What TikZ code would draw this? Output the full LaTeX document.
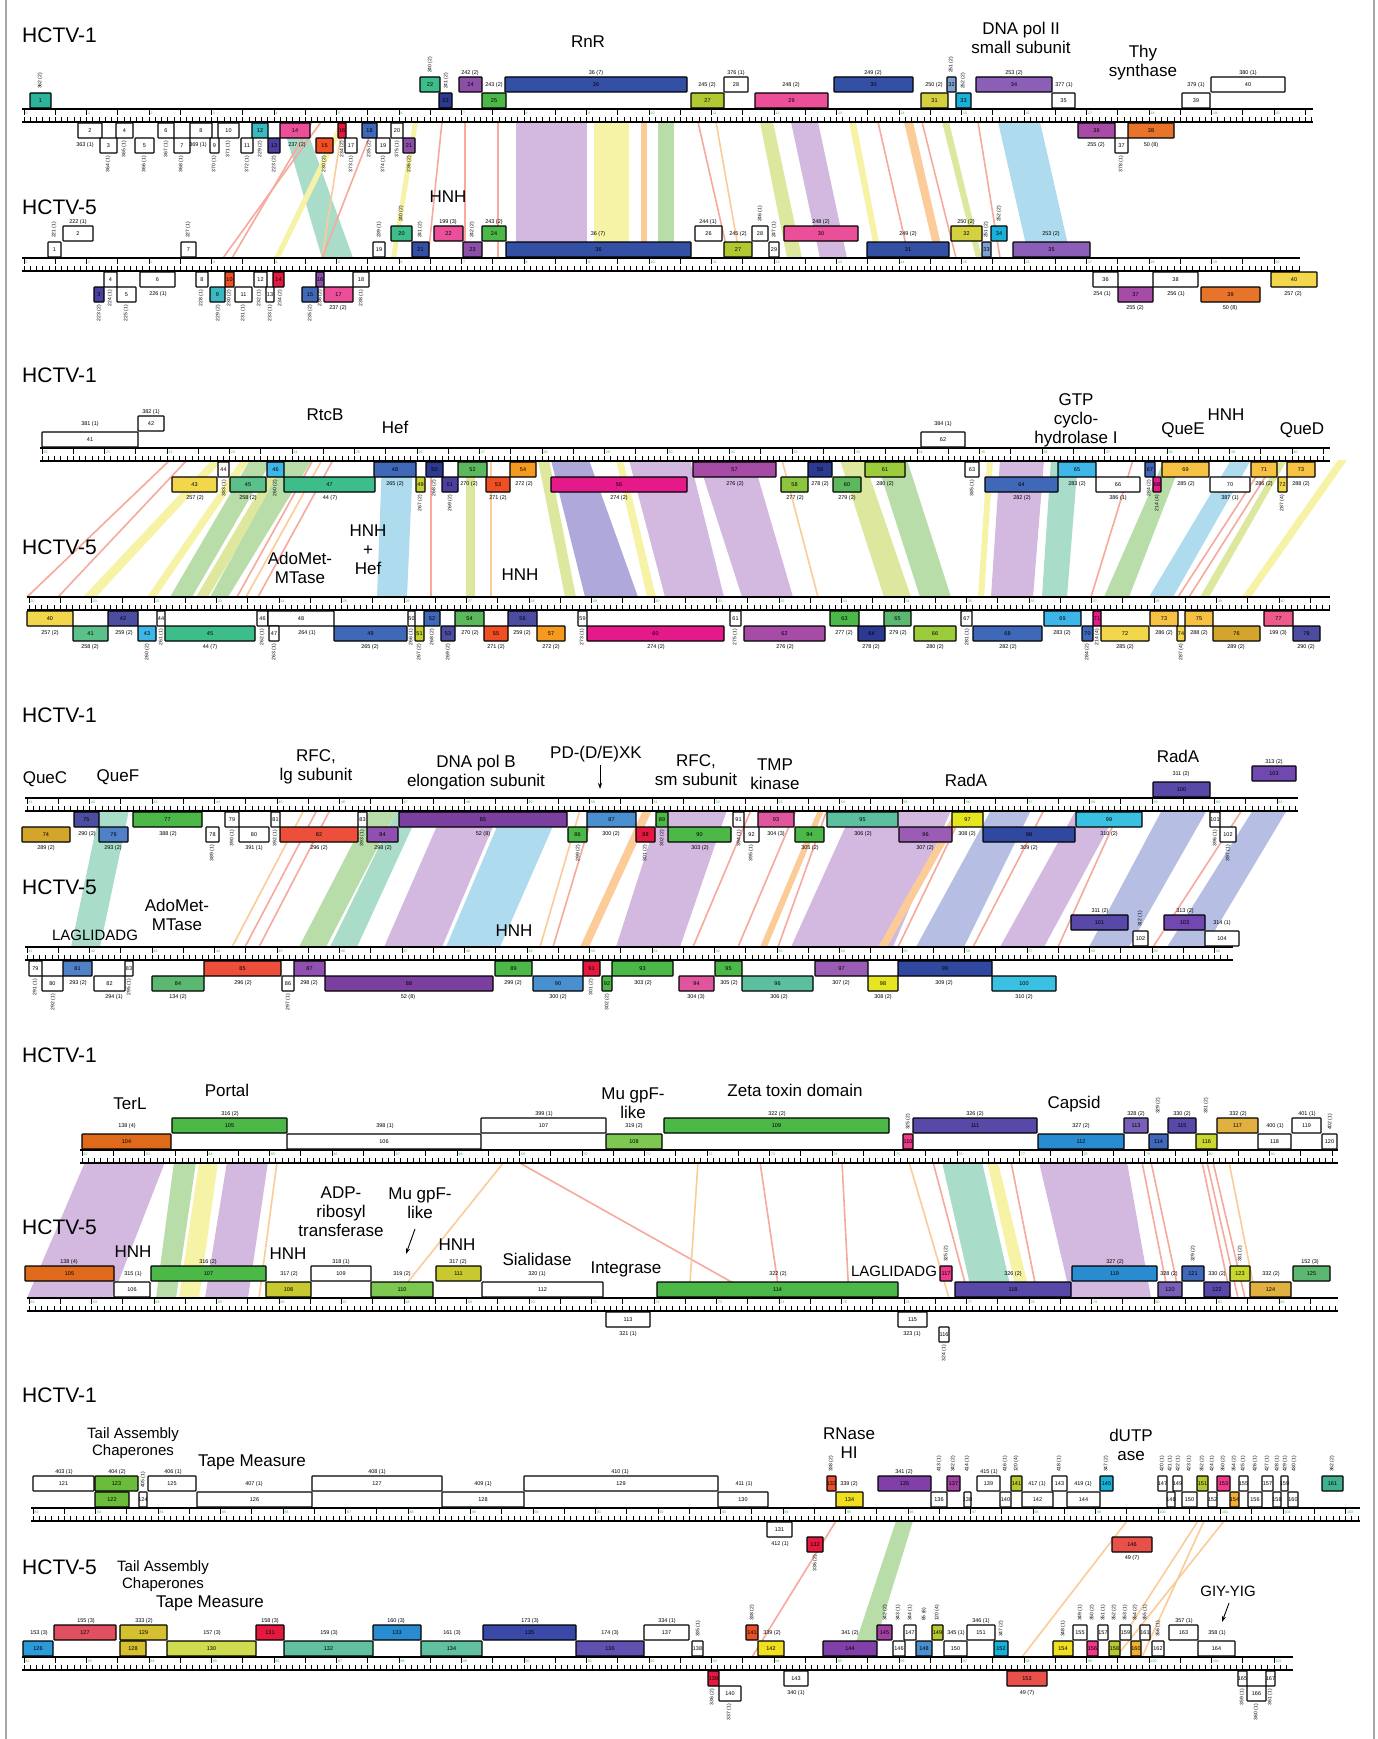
\documentclass[tikz,border=0pt]{standalone}
\usepackage{fontspec}
\setmainfont{Liberation Sans}
\usetikzlibrary{arrows.meta}
\definecolor{cTeal}{HTML}{2DB39B}\definecolor{cTeal2}{HTML}{3CB8C0}\definecolor{cGT}{HTML}{3DBD8A}\definecolor{cGT2}{HTML}{5CC08A}
\definecolor{cPur}{HTML}{8B4FA8}\definecolor{cPur2}{HTML}{8B5FB8}\definecolor{cBlue}{HTML}{3450A4}\definecolor{cDBlue}{HTML}{2B3990}
\definecolor{cGreen}{HTML}{4CB848}\definecolor{cGreen2}{HTML}{5CB85C}\definecolor{cGreen3}{HTML}{5CB870}\definecolor{cYG}{HTML}{B2C832}
\definecolor{cYG2}{HTML}{9CCC3C}\definecolor{cYG3}{HTML}{C8D830}\definecolor{cYG4}{HTML}{B8C830}\definecolor{cPink}{HTML}{EC4F9A}
\definecolor{cOlive}{HTML}{D4D040}\definecolor{cOlive2}{HTML}{C4D130}\definecolor{cOliveY}{HTML}{C8C830}\definecolor{cOliveD}{HTML}{D4C030}
\definecolor{cCyan}{HTML}{1AB1D9}\definecolor{cCyan2}{HTML}{3AC0E0}\definecolor{cGrayBlue}{HTML}{7F9FD0}\definecolor{cMag}{HTML}{A64CA6}
\definecolor{cMag2}{HTML}{A040A0}\definecolor{cOrange}{HTML}{E8732A}\definecolor{cOrange2}{HTML}{E06A1C}\definecolor{cRed}{HTML}{E5193F}
\definecolor{cOR}{HTML}{F04E23}\definecolor{cOR2}{HTML}{E8502A}\definecolor{cRO}{HTML}{EC4F3A}\definecolor{cRS}{HTML}{E8504A}
\definecolor{cViolet}{HTML}{4A3F9E}\definecolor{cViolet2}{HTML}{4C4CA0}\definecolor{cViolet3}{HTML}{5848A8}\definecolor{cViolet4}{HTML}{6050B0}
\definecolor{cYellow}{HTML}{F2D64B}\definecolor{cLBlue}{HTML}{3FB6E8}\definecolor{cMBlue}{HTML}{4068B8}\definecolor{cGold}{HTML}{D4A52C}
\definecolor{cGoldL}{HTML}{E0B040}\definecolor{cYOr}{HTML}{F7C244}\definecolor{cHotPink}{HTML}{E6198A}\definecolor{cHotPink2}{HTML}{EE3A8A}
\definecolor{cPinkR}{HTML}{EE5A8A}\definecolor{cPinkM}{HTML}{E0569E}\definecolor{cBright}{HTML}{E6E620}\definecolor{cBright2}{HTML}{F0E020}
\definecolor{cSky}{HTML}{4A90D0}\definecolor{cSky2}{HTML}{5080C8}\definecolor{cLGreen}{HTML}{7CC850}\definecolor{cLGreen2}{HTML}{8CC63F}
\definecolor{cAmber}{HTML}{F59A1E}\definecolor{cAmber2}{HTML}{F0B030}\definecolor{cDPur}{HTML}{7B3FA0}\definecolor{cPurM}{HTML}{9050B0}
\definecolor{cPurL}{HTML}{9A5CB4}\definecolor{cPurB}{HTML}{7048B0}\definecolor{cPurB2}{HTML}{7860B8}\definecolor{cPurD}{HTML}{8040A8}
\definecolor{cTeal3}{HTML}{5CC0A0}\definecolor{cTealL}{HTML}{60C0A0}\definecolor{cTealG}{HTML}{40B090}\definecolor{cDBlue2}{HTML}{3048A0}
\definecolor{cBlue2}{HTML}{2A8CD0}\definecolor{cBlue3}{HTML}{2A9AD8}\definecolor{cBlueD}{HTML}{3A48A8}\definecolor{cGreenY}{HTML}{6CBC3C}
\definecolor{cRose}{HTML}{E05060}\definecolor{cYGL}{HTML}{D0DC50}
\definecolor{bLav}{HTML}{D3B8E0}\definecolor{bYel}{HTML}{F7F3A6}\definecolor{bOr}{HTML}{FBCB98}\definecolor{bGr}{HTML}{B9DDA8}
\definecolor{bTeal}{HTML}{A9DCC9}\definecolor{bSal}{HTML}{F6A99C}\definecolor{bBlue}{HTML}{AEDBEE}\definecolor{bPeri}{HTML}{B6BFE3}
\definecolor{bYG}{HTML}{DDE89E}\definecolor{bVio}{HTML}{AFA9DB}\definecolor{tickG}{HTML}{3FAE49}
\newcommand\gn[5]{\filldraw[gb,fill=#4] (#2,{\R+(#1)}) rectangle (#3,{\R+(#1)+15});
  \node[num] at ({(#2+#3)/2},{\R+(#1)+7.5}) {#5};}
\newcommand\gA[4]{\gn{-32}{#1}{#2}{#3}{#4}}
\newcommand\gB[4]{\gn{-16}{#1}{#2}{#3}{#4}}
\newcommand\gC[4]{\gn{14}{#1}{#2}{#3}{#4}}
\newcommand\gD[4]{\gn{29}{#1}{#2}{#3}{#4}}
\newcommand\gLab[3]{\node[slab] at (#1,{\R+(#2)}) {#3};}
\newcommand\gUp[3]{\node[rl,anchor=west] at (#1,{\R+(#2)}) {#3};}
\newcommand\gDn[3]{\node[rl,anchor=east] at (#1,{\R+(#2)}) {#3};}
\newcommand\Bd[5]{\fill[#1] (#2,\Yt) -- (#3,\Yt) -- (#5,\Yb) -- (#4,\Yb) -- cycle;}
\newcommand\Bl[3]{\draw[#1,line width=1.6pt] (#2,\Yt) -- (#3,\Yb);}
\newcommand\Ruler[3]{%
  \pgfmathtruncatemacro\nmin{(#2-#1-3)/6.25}%
  \pgfmathtruncatemacro\nmaj{(#2-#1-3)/31.25}%
  \pgfmathtruncatemacro\nbig{(#2-#1-12)/62.5}%
  \foreach \i in {0,...,\nmin} {\draw[line width=0.6pt] ({#1+2+\i*6.25},{\R+13}) -- ++(0,-5);}
  \foreach \i in {0,...,\nmaj} {\draw[line width=0.8pt] ({#1+2+\i*31.25},{\R}) -- ++(0,6);}
  \foreach \i in {0,...,\nbig} {\pgfmathtruncatemacro\glab{#3+\i}\node[gnum] at ({#1+3.5+\i*62.5},{\R+4}) {\glab};}
  \draw[line width=1.3pt] (#1,\R) -- (#2,\R);
  \draw[line width=1.3pt] (#1,{\R+13}) -- (#2,{\R+13});}
\begin{document}
\begin{tikzpicture}[x=1pt,y=-1pt,
  gb/.style={draw=black,line width=1.1pt,rounded corners=0.6pt},
  num/.style={font=\fontsize{5.5}{6}\selectfont,inner sep=0pt},
  slab/.style={font=\fontsize{5.5}{6}\selectfont,inner sep=0pt},
  rl/.style={font=\fontsize{5}{6}\selectfont,inner sep=0pt,rotate=90},
  gnum/.style={font=\fontsize{3.5}{4}\selectfont,text=tickG,inner sep=0pt,anchor=west},
  hctv/.style={font=\fontsize{21}{24}\selectfont,anchor=north west,inner sep=0pt},
  ann/.style={font=\fontsize{17}{19}\selectfont,align=center,inner sep=0pt},
  anns/.style={font=\fontsize{15}{17}\selectfont,align=center,inner sep=0pt},
  arr/.style={-{Stealth[length=6pt,width=4pt]},line width=0.9pt}]
\useasboundingbox (0,0) rectangle (1377,1739);
\fill[white] (0,0) rectangle (1377,1739);
\draw[black!35,line width=1.2pt] (6,0) -- (6,1739);
\draw[black!35,line width=1.2pt] (1374,0) -- (1374,1739);

% ================= PANEL 1 =================
\def\Yt{122}\def\Yb{258}
\Bd{bLav}{516}{587}{516}{587}\Bd{bYel}{594}{629}{594}{629}\Bd{bOr}{641}{647}{641}{647}\Bd{bGr}{658}{674}{658}{674}
\Bd{bTeal}{282}{304}{322}{353}
\Bl{bSal}{321}{223}\Bl{bSal}{312}{232}\Bd{bYel}{340}{346}{274}{280}\Bl{bOr}{343}{322}\Bl{bSal}{375}{322}
\Bd{bYel}{413}{418}{391}{396}\Bl{bSal}{442}{428}\Bl{bSal}{465}{465}\Bl{bSal}{498}{498}
\Bl{bSal}{698}{729}\Bl{bOr}{716}{740}\Bd{bYG}{760}{773}{787}{802}\Bd{bLav}{791}{818}{820}{847}
\Bd{bYel}{849}{856}{876}{882}\Bl{bSal}{878}{909}\Bd{bOr}{904}{913}{936}{944}\Bl{bSal}{922}{956}
\Bd{bYG}{942}{949}{976}{982}\Bl{bSal}{978}{1000}\Bd{bBlue}{998}{1040}{1029}{1071}

\node[hctv] at (22,28) {HCTV-1};
\node[hctv] at (22,200) {HCTV-5};
\node[ann] at (588,42) {RnR};
\node[ann] at (448,197) {HNH};
\node[ann] at (1021,38) {DNA pol II\\small subunit};
\node[ann] at (1143,63) {Thy\\synthase};

\def\R{109}
\Ruler{22}{1313}{0}
\gA{420}{440}{cGT}{22}\gA{459}{482}{cPur}{24}\gA{505}{687}{cBlue}{36}\gA{724}{748}{white}{28}\gA{834}{913}{cBlue}{30}
\gA{947}{956}{cGrayBlue}{32}\gA{976}{1052}{cPur2}{34}\gA{1211}{1285}{white}{40}
\gB{30}{51}{cTeal}{1}\gB{439}{452}{cDBlue}{23}\gB{482}{506}{cGreen}{25}\gB{691}{724}{cYG}{27}\gB{755}{828}{cPink}{29}
\gB{921}{948}{cOlive}{31}\gB{956}{971}{cCyan}{33}\gB{1052}{1075}{white}{35}\gB{1182}{1210}{white}{39}
\gC{78}{102}{white}{2}\gC{116}{133}{white}{4}\gC{158}{174}{white}{6}\gC{190}{212}{white}{8}\gC{218}{239}{white}{10}
\gC{252}{268}{cTeal2}{12}\gC{280}{310}{cPink}{14}\gC{338}{346}{cRed}{16}\gC{362}{377}{cMBlue}{18}\gC{391}{403}{white}{20}
\gC{1078}{1115}{cMag}{36}\gC{1128}{1174}{cOrange}{38}
\gD{100}{117}{white}{3}\gD{135}{154}{white}{5}\gD{174}{190}{white}{7}\gD{210}{219}{white}{9}\gD{241}{253}{white}{11}
\gD{268}{280}{cViolet}{13}\gD{316}{333}{cOR}{15}\gD{345}{357}{white}{17}\gD{376}{390}{white}{19}\gD{403}{415}{cPur}{21}
\gD{1115}{1128}{white}{37}
\gUp{430}{-36}{240 (2)}\gLab{470}{-36}{242 (2)}\gLab{596}{-36}{36 (7)}\gLab{736}{-36}{376 (1)}\gLab{873}{-36}{249 (2)}
\gUp{951}{-36}{251 (2)}\gLab{1014}{-36}{253 (2)}\gLab{1248}{-36}{380 (1)}
\gUp{40}{-20}{362 (2)}\gUp{446}{-20}{241 (2)}\gLab{494}{-24}{243 (2)}\gLab{707}{-24}{245 (2)}\gLab{791}{-24}{248 (2)}
\gLab{934}{-24}{250 (2)}\gUp{963}{-20}{252 (2)}\gLab{1064}{-24}{377 (1)}\gLab{1196}{-24}{379 (1)}
\gLab{85}{36}{363 (1)}\gLab{198}{36}{369 (1)}\gLab{297}{36}{237 (2)}\gLab{1096}{36}{255 (2)}\gLab{1151}{36}{50 (8)}
\gDn{108}{47}{364 (1)}\gDn{124}{32}{365 (1)}\gDn{144}{47}{366 (1)}\gDn{166}{32}{367 (1)}\gDn{181}{47}{368 (1)}
\gDn{214}{47}{370 (1)}\gDn{228}{32}{371 (1)}\gDn{247}{47}{372 (1)}\gDn{260}{32}{229 (2)}\gDn{274}{47}{223 (2)}
\gDn{324}{47}{230 (2)}\gDn{342}{32}{234 (2)}\gDn{351}{47}{373 (1)}\gDn{369}{32}{235 (2)}\gDn{383}{47}{374 (1)}
\gDn{397}{32}{375 (1)}\gDn{409}{47}{236 (2)}\gDn{1121}{47}{378 (1)}

\def\R{258}
\Ruler{22}{1300}{0}
\gA{63}{93}{white}{2}\gA{391}{412}{cGT}{20}\gA{434}{463}{cPink}{22}\gA{482}{506}{cGreen}{24}\gA{695}{722}{white}{26}
\gA{752}{768}{white}{28}\gA{784}{858}{cPink}{30}\gA{951}{982}{cOlive}{32}\gA{991}{1007}{cCyan}{34}
\gB{48}{61}{white}{1}\gB{181}{196}{white}{7}\gB{373}{385}{white}{19}\gB{412}{429}{cBlue}{21}\gB{463}{482}{cPur}{23}
\gB{506}{691}{cBlue}{36}\gB{724}{752}{cYG}{27}\gB{769}{779}{white}{29}\gB{867}{949}{cBlue}{31}\gB{982}{991}{cGrayBlue}{33}
\gB{1013}{1090}{cPur2}{35}
\gC{104}{117}{white}{4}\gC{140}{175}{white}{6}\gC{196}{208}{white}{8}\gC{225}{234}{cOR}{10}\gC{254}{267}{white}{12}
\gC{273}{284}{cRed}{14}\gC{316}{324}{cPur}{16}\gC{353}{369}{white}{18}\gC{1093}{1118}{white}{36}\gC{1153}{1198}{white}{38}
\gC{1271}{1317}{cYellow}{40}
\gD{94}{104}{cViolet}{3}\gD{117}{136}{white}{5}\gD{210}{225}{cTeal2}{9}\gD{235}{252}{white}{11}\gD{266}{274}{white}{13}
\gD{302}{318}{cMBlue}{15}\gD{324}{353}{cPink}{17}\gD{1118}{1153}{cMag}{37}\gD{1201}{1260}{cOrange}{39}
\gLab{78}{-36}{222 (1)}\gUp{401}{-36}{240 (2)}\gLab{448}{-36}{199 (3)}\gLab{494}{-36}{243 (2)}\gLab{708}{-36}{244 (1)}
\gUp{760}{-36}{246 (1)}\gLab{821}{-36}{248 (2)}\gLab{966}{-36}{250 (2)}\gUp{999}{-36}{252 (2)}
\gUp{54}{-20}{221 (1)}\gUp{188}{-20}{227 (1)}\gUp{379}{-20}{239 (1)}\gUp{420}{-20}{241 (2)}\gUp{472}{-20}{242 (2)}
\gLab{598}{-24}{36 (7)}\gLab{738}{-24}{245 (2)}\gUp{774}{-20}{247 (1)}\gLab{908}{-24}{249 (2)}\gUp{986}{-20}{251 (2)}
\gLab{1051}{-24}{253 (2)}
\gLab{158}{36}{226 (1)}\gLab{1102}{36}{254 (1)}\gLab{1176}{36}{256 (1)}\gLab{1293}{36}{257 (2)}
\gLab{338}{50}{237 (2)}\gLab{1135}{50}{255 (2)}\gLab{1230}{50}{50 (8)}
\gDn{99}{47}{223 (2)}\gDn{110}{32}{224 (1)}\gDn{126}{47}{225 (1)}\gDn{201}{32}{228 (1)}\gDn{218}{47}{229 (2)}
\gDn{229}{32}{230 (2)}\gDn{243}{47}{231 (1)}\gDn{259}{32}{232 (1)}\gDn{270}{47}{233 (1)}\gDn{280}{32}{234 (2)}
\gDn{310}{47}{235 (2)}\gDn{320}{32}{236 (2)}\gDn{361}{32}{238 (1)}

% ================= PANEL 2 =================
\def\Yt{460}\def\Yb{597}
\Bl{bSal}{170}{27}\Bl{bSal}{187}{58}\Bd{bYel}{212}{223}{83}{96}\Bd{bYel}{241}{250}{147}{156}
\Bd{bGr}{250}{272}{170}{192}\Bd{bYG}{277}{290}{196}{208}\Bd{bGr}{286}{312}{210}{228}
\Bl{bSal}{313}{237}\Bl{bOr}{322}{246}\Bl{bSal}{333}{258}\Bd{bBlue}{382}{413}{377}{407}\Bl{bSal}{431}{431}
\Bd{bYG}{466}{475}{466}{475}\Bl{bOr}{491}{491}\Bd{bYG}{538}{549}{565}{576}\Bd{bVio}{551}{589}{585}{638}
\Bd{bYel}{616}{623}{647}{656}\Bd{bLav}{629}{690}{665}{724}\Bd{bLav}{698}{753}{742}{793}\Bl{bOr}{782}{818}
\Bd{bYG}{840}{864}{884}{911}\Bd{bGr}{876}{907}{920}{951}\Bd{bYel}{987}{993}{978}{984}\Bd{bLav}{1000}{1044}{991}{1033}
\Bd{bTeal}{1051}{1078}{1042}{1067}\Bl{bSal}{1133}{1091}\Bd{bGr}{1164}{1182}{1104}{1129}\Bd{bBlue}{1231}{1251}{1149}{1173}
\Bl{bSal}{1267}{1178}\Bl{bSal}{1276}{1189}\Bd{bYG}{1280}{1287}{1200}{1209}\Bd{bYel}{1338}{1347}{1242}{1251}

\node[hctv] at (22,368) {HCTV-1};
\node[hctv] at (22,540) {HCTV-5};
\node[ann] at (325,415) {RtcB};
\node[ann] at (395,427) {Hef};
\node[ann] at (368,550) {HNH\\+\\Hef};
\node[ann] at (300,568) {AdoMet-\\MTase};
\node[ann] at (520,575) {HNH};
\node[ann] at (1076,420) {GTP\\cyclo-\\hydrolase I};
\node[ann] at (1183,430) {QueE};
\node[ann] at (1226,415) {HNH};
\node[ann] at (1302,430) {QueD};

\def\R{448}
\Ruler{40}{1330}{20}
\gA{138}{164}{white}{42}
\gB{42}{138}{white}{41}\gB{921}{965}{white}{62}
\gC{218}{229}{white}{44}\gC{267}{284}{cLBlue}{46}\gC{374}{416}{cMBlue}{48}\gC{426}{443}{cDBlue}{50}\gC{458}{487}{cGreen2}{52}
\gC{510}{536}{cAmber}{54}\gC{693}{776}{cMag}{57}\gC{808}{832}{cDBlue}{59}\gC{865}{905}{cYG2}{61}\gC{965}{979}{white}{63}
\gC{1058}{1096}{cLBlue}{65}\gC{1145}{1155}{cMBlue}{67}\gC{1162}{1209}{cYOr}{69}\gC{1251}{1277}{cYOr}{71}\gC{1287}{1315}{cYOr}{73}
\gD{172}{217}{cYellow}{43}\gD{230}{266}{cGT2}{45}\gD{284}{375}{cGT}{47}\gD{416}{425}{cOlive2}{49}\gD{442}{458}{cViolet}{51}
\gD{486}{510}{cOR}{53}\gD{551}{687}{cHotPink}{56}\gD{781}{808}{cLGreen2}{58}\gD{833}{861}{cGreen2}{60}\gD{985}{1058}{cMBlue}{64}
\gD{1096}{1140}{white}{66}\gD{1153}{1161}{cHotPink}{68}\gD{1210}{1250}{white}{70}\gD{1278}{1287}{cYellow}{72}
\gLab{151}{-36}{382 (1)}\gLab{90}{-24}{381 (1)}\gLab{943}{-24}{384 (1)}
\gLab{395}{36}{265 (2)}\gLab{469}{36}{270 (2)}\gLab{524}{36}{272 (2)}\gLab{735}{36}{276 (2)}\gLab{820}{36}{278 (2)}
\gLab{885}{36}{280 (2)}\gLab{1077}{36}{283 (2)}\gLab{1186}{36}{285 (2)}\gLab{1264}{36}{286 (2)}\gLab{1301}{36}{288 (2)}
\gLab{195}{50}{257 (2)}\gLab{248}{50}{258 (2)}\gLab{330}{50}{44 (7)}\gLab{498}{50}{271 (2)}\gLab{619}{50}{274 (2)}
\gLab{795}{50}{277 (2)}\gLab{847}{50}{279 (2)}\gLab{1022}{50}{282 (2)}\gLab{1118}{50}{386 (1)}\gLab{1230}{50}{387 (1)}
\gDn{224}{32}{383 (1)}\gDn{275}{32}{260 (2)}\gDn{420}{47}{267 (2)}\gDn{434}{32}{268 (2)}\gDn{450}{47}{269 (2)}
\gDn{972}{32}{385 (1)}\gDn{1149}{32}{284 (2)}\gDn{1157}{47}{214 (4)}\gDn{1282}{47}{287 (4)}

\def\R{597}
\Ruler{27}{1330}{20}
\gC{27}{73}{cYellow}{40}\gC{108}{138}{cViolet2}{42}\gC{157}{165}{white}{44}\gC{257}{268}{white}{46}\gC{268}{334}{white}{48}
\gC{408}{415}{white}{50}\gC{424}{440}{cMBlue}{52}\gC{455}{484}{cGreen2}{54}\gC{508}{537}{cViolet2}{56}\gC{578}{587}{white}{59}
\gC{730}{741}{white}{61}\gC{830}{859}{cGreen}{63}\gC{884}{911}{cGreen3}{65}\gC{961}{972}{white}{67}\gC{1044}{1081}{cLBlue}{69}
\gC{1093}{1101}{cHotPink}{71}\gC{1150}{1178}{cYOr}{73}\gC{1185}{1213}{cYOr}{75}\gC{1264}{1293}{cPinkR}{77}
\gD{73}{108}{cGT2}{41}\gD{138}{156}{cLBlue}{43}\gD{165}{255}{cGT}{45}\gD{269}{279}{white}{47}\gD{334}{407}{cMBlue}{49}
\gD{415}{424}{cOlive2}{51}\gD{441}{455}{cViolet2}{53}\gD{484}{508}{cOR}{55}\gD{537}{565}{cAmber}{57}\gD{587}{724}{cHotPink}{60}
\gD{744}{825}{cMag}{62}\gD{858}{885}{cDBlue}{64}\gD{914}{956}{cYG2}{66}\gD{973}{1042}{cMBlue}{68}\gD{1082}{1093}{cMBlue}{70}
\gD{1101}{1149}{cYellow}{72}\gD{1177}{1185}{cYellow}{74}\gD{1213}{1260}{cGold}{76}\gD{1293}{1320}{cViolet2}{78}
\gLab{50}{36}{257 (2)}\gLab{124}{36}{259 (2)}\gLab{307}{36}{264 (1)}\gLab{470}{36}{270 (2)}\gLab{522}{36}{259 (2)}
\gLab{844}{36}{277 (2)}\gLab{898}{36}{279 (2)}\gLab{1062}{36}{283 (2)}\gLab{1164}{36}{286 (2)}\gLab{1199}{36}{288 (2)}
\gLab{1278}{36}{199 (3)}
\gLab{90}{50}{258 (2)}\gLab{210}{50}{44 (7)}\gLab{370}{50}{265 (2)}\gLab{496}{50}{271 (2)}\gLab{551}{50}{272 (2)}
\gLab{656}{50}{274 (2)}\gLab{785}{50}{276 (2)}\gLab{871}{50}{278 (2)}\gLab{935}{50}{280 (2)}\gLab{1008}{50}{282 (2)}
\gLab{1125}{50}{285 (2)}\gLab{1236}{50}{289 (2)}\gLab{1306}{50}{290 (2)}
\gDn{147}{47}{260 (2)}\gDn{161}{32}{261 (1)}\gDn{262}{32}{262 (1)}\gDn{274}{47}{263 (1)}\gDn{411}{32}{266 (1)}
\gDn{419}{47}{267 (2)}\gDn{432}{32}{268 (2)}\gDn{448}{47}{269 (2)}\gDn{582}{32}{273 (1)}\gDn{735}{32}{275 (1)}
\gDn{967}{32}{281 (1)}\gDn{1087}{47}{284 (2)}\gDn{1097}{32}{214 (4)}\gDn{1181}{47}{287 (4)}

% ================= PANEL 3 =================
\def\Yt{810}\def\Yb{947}
\Bd{bTeal}{100}{129}{71}{100}\Bl{bOr}{304}{232}\Bl{bSal}{317}{245}\Bl{bSal}{330}{259}
\Bd{bGr}{370}{397}{299}{326}\Bd{bTeal}{397}{420}{330}{357}\Bd{bLav}{444}{500}{384}{442}\Bd{bBlue}{504}{560}{446}{500}
\Bl{bOr}{580}{540}\Bl{bSal}{594}{553}\Bd{bOr}{643}{652}{580}{589}\Bd{bLav}{660}{727}{616}{680}
\Bl{bSal}{751}{693}\Bl{bSal}{796}{738}\Bd{bOr}{818}{824}{760}{767}\Bl{bSal}{827}{778}\Bd{bLav}{853}{951}{791}{893}
\Bd{bOr}{956}{964}{878}{887}\Bl{bSal}{964}{898}\Bd{bPeri}{991}{1031}{916}{964}\Bl{bSal}{1044}{973}
\Bd{bLav}{1076}{1118}{1000}{1044}\Bl{bSal}{1120}{1058}\Bd{bPeri}{1162}{1207}{1089}{1129}\Bl{bSal}{1242}{1153}
\Bd{bPeri}{1253}{1287}{1167}{1205}

\node[hctv] at (22,708) {HCTV-1};
\node[hctv] at (22,880) {HCTV-5};
\node[ann] at (45,779) {QueC};
\node[ann] at (118,777) {QueF};
\node[ann] at (316,767) {RFC,\\lg subunit};
\node[ann] at (476,773) {DNA pol B\\elongation subunit};
\node[ann] (pdx) at (596,754) {PD-(D/E)XK};
\coordinate (pdxend) at (600,789);
\draw[arr] (pdx.south) ++(4,3) -- (pdxend);
\node[ann] at (696,770) {RFC,\\sm subunit};
\node[ann] at (775,774) {TMP\\kinase};
\node[ann] at (966,780) {RadA};
\node[ann] at (1178,756) {RadA};
\node[ann] at (177,915) {AdoMet-\\MTase};
\node[anns] at (95,935) {LAGLIDADG};
\node[ann] at (514,931) {HNH};

\def\R{798}
\Ruler{25}{1298}{41}
\gA{1252}{1296}{cPurB}{103}
\gB{1153}{1210}{cViolet3}{100}
\gC{74}{99}{cViolet2}{75}\gC{133}{202}{cGreen}{77}\gC{225}{239}{white}{79}\gC{271}{280}{white}{81}\gC{358}{367}{white}{83}
\gC{399}{567}{cDPur}{85}\gC{587}{636}{cSky}{87}\gC{656}{668}{cGreen}{89}\gC{733}{744}{white}{91}\gC{758}{794}{cPinkM}{93}
\gC{827}{898}{cTeal3}{95}\gC{952}{983}{cBright}{97}\gC{1076}{1142}{cCyan2}{99}\gC{1210}{1220}{white}{101}
\gD{22}{70}{cGold}{74}\gD{99}{128}{cSky2}{76}\gD{206}{219}{white}{78}\gD{239}{269}{white}{80}\gD{280}{358}{cRO}{82}
\gD{367}{398}{cPurM}{84}\gD{568}{587}{cGreen}{86}\gD{636}{655}{cRed}{88}\gD{668}{731}{cGreen}{90}\gD{744}{759}{white}{92}
\gD{795}{824}{cGreen}{94}\gD{899}{952}{cPurL}{96}\gD{983}{1075}{cDBlue2}{98}\gD{1220}{1236}{white}{102}
\gLab{1274}{-36}{313 (2)}\gLab{1181}{-24}{311 (2)}
\gLab{87}{36}{290 (2)}\gLab{168}{36}{388 (2)}\gLab{483}{36}{52 (8)}\gLab{611}{36}{300 (2)}\gLab{776}{36}{304 (3)}
\gLab{863}{36}{306 (2)}\gLab{967}{36}{308 (2)}\gLab{1109}{36}{310 (2)}
\gLab{46}{50}{289 (2)}\gLab{113}{50}{293 (2)}\gLab{254}{50}{391 (1)}\gLab{319}{50}{296 (2)}\gLab{383}{50}{298 (2)}
\gLab{700}{50}{303 (2)}\gLab{810}{50}{305 (2)}\gLab{925}{50}{307 (2)}\gLab{1029}{50}{309 (2)}
\gDn{212}{47}{389 (1)}\gDn{232}{32}{390 (1)}\gDn{275}{32}{392 (1)}\gDn{362}{32}{393 (1)}\gDn{578}{47}{299 (2)}
\gDn{645}{47}{301 (2)}\gDn{662}{32}{302 (2)}\gDn{739}{32}{394 (1)}\gDn{751}{47}{395 (1)}\gDn{1215}{32}{396 (1)}
\gDn{1228}{47}{397 (1)}

\def\R{947}
\Ruler{25}{1233}{41}
\gA{1071}{1128}{cViolet3}{101}\gA{1164}{1205}{cPurB}{103}
\gB{1133}{1148}{white}{102}\gB{1205}{1239}{white}{104}
\gC{29}{42}{white}{79}\gC{63}{92}{cSky2}{81}\gC{125}{133}{white}{83}\gC{204}{281}{cRO}{85}\gC{294}{325}{cPurM}{87}
\gC{495}{532}{cGreen}{89}\gC{583}{600}{cRed}{91}\gC{612}{673}{cGreen}{93}\gC{715}{742}{cGreen}{95}\gC{815}{868}{cPurL}{97}
\gC{898}{992}{cDBlue2}{99}
\gD{42}{63}{white}{80}\gD{94}{125}{white}{82}\gD{152}{204}{cGreen3}{84}\gD{282}{294}{white}{86}\gD{325}{493}{cDPur}{88}
\gD{533}{583}{cSky}{90}\gD{602}{612}{cGreen}{92}\gD{679}{714}{cPinkM}{94}\gD{742}{813}{cTeal3}{96}\gD{868}{898}{cBright}{98}
\gD{992}{1056}{cCyan2}{100}
\gLab{1100}{-36}{311 (2)}\gLab{1185}{-36}{313 (2)}\gUp{1140}{-20}{312 (1)}\gLab{1222}{-24}{314 (1)}
\gLab{78}{36}{293 (2)}\gLab{243}{36}{296 (2)}\gLab{309}{36}{298 (2)}\gLab{513}{36}{299 (2)}\gLab{643}{36}{303 (2)}
\gLab{729}{36}{305 (2)}\gLab{841}{36}{307 (2)}\gLab{944}{36}{309 (2)}
\gLab{114}{50}{294 (1)}\gLab{178}{50}{134 (2)}\gLab{408}{50}{52 (8)}\gLab{558}{50}{300 (2)}\gLab{696}{50}{304 (3)}
\gLab{779}{50}{306 (2)}\gLab{883}{50}{308 (2)}\gLab{1024}{50}{310 (2)}
\gDn{35}{32}{291 (1)}\gDn{53}{47}{292 (1)}\gDn{129}{32}{295 (1)}\gDn{288}{47}{297 (1)}\gDn{591}{32}{301 (2)}
\gDn{607}{47}{302 (2)}

% ================= PANEL 4 =================
\def\Yt{1162}\def\Yb{1298}
\Bd{bLav}{85}{165}{27}{112}\Bd{bGr}{174}{196}{156}{176}\Bd{bYel}{199}{218}{179}{199}\Bd{bLav}{227}{268}{205}{248}
\Bl{bOr}{277}{259}\Bl{bOr}{504}{395}\Bl{bSal}{518}{760}\Bl{bOr}{698}{689}\Bl{bSal}{760}{780}\Bl{bSal}{842}{849}
\Bl{bOr}{909}{949}\Bl{bSal}{933}{969}\Bd{bTeal}{942}{982}{973}{1013}\Bd{bYel}{987}{998}{1018}{1031}\Bl{bSal}{1011}{1038}
\Bd{bLav}{1039}{1127}{1071}{1151}\Bl{bSal}{1142}{1169}\Bl{bSal}{1151}{1180}\Bl{bSal}{1202}{1231}\Bl{bSal}{1207}{1238}
\Bl{bSal}{1213}{1245}\Bl{bOr}{1229}{1256}

\node[hctv] at (22,1048) {HCTV-1};
\node[hctv] at (22,1220) {HCTV-5};
\node[ann] at (130,1104) {TerL};
\node[ann] at (227,1090) {Portal};
\node[ann] at (633,1103) {Mu gpF-\\like};
\node[ann] at (795,1090) {Zeta toxin domain};
\node[ann] at (1074,1104) {Capsid};
\node[ann] at (133,1252) {HNH};
\node[ann] at (288,1254) {HNH};
\node[ann] at (341,1212) {ADP-\\ribosyl\\transferase};
\node[ann] (mu5) at (420,1203) {Mu gpF-\\like};
\coordinate (mu5end) at (406,1254);
\draw[arr] (415,1229) -- (mu5end);
\node[ann] at (457,1245) {HNH};
\node[ann] at (537,1259) {Sialidase};
\node[ann] at (626,1269) {Integrase};
\node[anns] at (894,1271) {LAGLIDADG};

\def\R{1150}
\Ruler{80}{1338}{62}
\gA{172}{287}{cGreen}{105}\gA{481}{606}{white}{107}\gA{664}{889}{cGreen}{109}\gA{913}{1037}{cViolet3}{111}
\gA{1124}{1148}{cPurB2}{113}\gA{1168}{1196}{cViolet3}{115}\gA{1217}{1258}{cGoldL}{117}\gA{1292}{1321}{white}{119}
\gB{82}{171}{cOrange2}{104}\gB{287}{481}{white}{106}\gB{606}{662}{cLGreen}{108}\gB{903}{913}{cHotPink2}{110}
\gB{1038}{1124}{cBlue2}{112}\gB{1149}{1168}{cMBlue}{114}\gB{1196}{1217}{cYG3}{116}\gB{1258}{1291}{white}{118}
\gB{1322}{1337}{white}{120}
\gLab{230}{-36}{316 (2)}\gLab{544}{-36}{399 (1)}\gLab{777}{-36}{322 (2)}\gLab{975}{-36}{326 (2)}\gLab{1136}{-36}{328 (2)}
\gLab{1182}{-36}{330 (2)}\gLab{1238}{-36}{332 (2)}\gLab{1307}{-36}{401 (1)}
\gLab{127}{-24}{138 (4)}\gLab{385}{-24}{398 (1)}\gLab{634}{-24}{319 (2)}\gLab{1081}{-24}{327 (2)}\gLab{1275}{-24}{400 (1)}
\gUp{908}{-20}{325 (2)}\gUp{1158}{-36}{329 (2)}\gUp{1206}{-36}{331 (2)}\gUp{1330}{-20}{402 (1)}

\def\R{1298}
\Ruler{27}{1338}{62}
\gA{25}{114}{cOrange2}{105}\gA{151}{266}{cGreen}{107}\gA{311}{371}{white}{109}\gA{436}{481}{cOliveY}{111}
\gA{940}{952}{cHotPink2}{117}\gA{1072}{1157}{cBlue2}{119}\gA{1182}{1204}{cMBlue}{121}\gA{1230}{1250}{cYG3}{123}
\gA{1293}{1330}{cGreen3}{125}
\gB{114}{150}{white}{106}\gB{266}{311}{cOliveY}{108}\gB{371}{433}{cLGreen}{110}\gB{482}{603}{white}{112}
\gB{657}{898}{cGreen}{114}\gB{955}{1071}{cViolet3}{118}\gB{1158}{1182}{cPurB2}{120}\gB{1204}{1230}{cViolet3}{122}
\gB{1250}{1291}{cGoldL}{124}
\gC{606}{650}{white}{113}\gC{898}{927}{white}{115}
\gD{939}{949}{white}{116}
\gLab{69}{-36}{138 (4)}\gLab{208}{-36}{316 (2)}\gLab{341}{-36}{318 (1)}\gLab{458}{-36}{317 (2)}\gLab{1115}{-36}{327 (2)}
\gLab{1310}{-36}{152 (3)}
\gLab{133}{-24}{315 (1)}\gLab{289}{-24}{317 (2)}\gLab{402}{-24}{319 (2)}\gLab{537}{-24}{320 (1)}\gLab{778}{-24}{322 (2)}
\gLab{1013}{-24}{326 (2)}\gLab{1169}{-24}{328 (2)}\gLab{1217}{-24}{330 (2)}\gLab{1271}{-24}{332 (2)}
\gUp{946}{-36}{325 (2)}\gUp{1193}{-36}{329 (2)}\gUp{1240}{-36}{331 (2)}
\gLab{628}{36}{321 (1)}\gLab{912}{36}{323 (1)}\gDn{944}{47}{324 (1)}

% ================= PANEL 5 =================
\def\Yt{1521}\def\Yb{1657}
\Bl{bSal}{836}{752}\Bd{bGr}{896}{913}{851}{871}\Bl{bOr}{1127}{1022}\Bl{bOr}{1198}{1110}\Bl{bOr}{1204}{1142}
\Bl{bOr}{1224}{1116}

\node[hctv] at (22,1388) {HCTV-1};
\node[hctv] at (22,1560) {HCTV-5};
\node[anns] at (133,1443) {Tail Assembly\\Chaperones};
\node[ann] at (252,1462) {Tape Measure};
\node[anns] at (163,1576) {Tail Assembly\\Chaperones};
\node[ann] at (210,1603) {Tape Measure};
\node[ann] at (849,1443) {RNase\\HI};
\node[ann] at (1131,1445) {dUTP\\ase};
\node[anns] at (1228,1591) {GIY-YIG};
\coordinate (giyend) at (1222,1622);
\draw[arr] (1229,1603) -- (giyend);

\def\R{1508}
\Ruler{31}{1360}{82}
\gA{33}{94}{white}{121}\gA{95}{138}{cGreenY}{123}\gA{148}{196}{white}{125}\gA{312}{442}{white}{127}\gA{524}{718}{white}{129}
\gA{827}{836}{cOR2}{133}\gA{878}{931}{cPurD}{135}\gA{947}{960}{cMag2}{137}\gA{977}{1000}{white}{139}\gA{1011}{1022}{cYG4}{141}
\gA{1052}{1067}{white}{143}\gA{1100}{1113}{cCyan}{145}\gA{1158}{1167}{white}{147}\gA{1173}{1182}{white}{149}
\gA{1197}{1208}{cYG4}{151}\gA{1217}{1230}{cHotPink2}{153}\gA{1239}{1248}{white}{155}\gA{1262}{1273}{white}{157}
\gA{1281}{1288}{white}{159}\gA{1322}{1343}{cTealG}{161}
\gB{95}{129}{cGreenY}{122}\gB{139}{147}{white}{124}\gB{197}{312}{white}{126}\gB{442}{524}{white}{128}\gB{718}{768}{white}{130}
\gB{836}{863}{cBright2}{134}\gB{931}{947}{white}{136}\gB{964}{971}{white}{138}\gB{1000}{1011}{white}{140}
\gB{1022}{1053}{white}{142}\gB{1067}{1100}{white}{144}\gB{1167}{1175}{white}{148}\gB{1182}{1197}{white}{150}
\gB{1208}{1217}{white}{152}\gB{1230}{1239}{cAmber2}{154}\gB{1248}{1262}{white}{156}\gB{1273}{1281}{white}{158}
\gB{1288}{1298}{white}{160}
\gC{767}{792}{white}{131}
\gD{807}{823}{cRed}{132}\gD{1112}{1152}{cRS}{146}
\gLab{64}{-36}{403 (1)}\gLab{117}{-36}{404 (2)}\gLab{173}{-36}{406 (1)}\gLab{377}{-36}{408 (1)}\gLab{620}{-36}{410 (1)}
\gLab{904}{-36}{341 (2)}\gLab{989}{-36}{415 (1)}
\gLab{254}{-24}{407 (1)}\gLab{483}{-24}{409 (1)}\gLab{744}{-24}{411 (1)}\gLab{849}{-24}{339 (2)}\gLab{1037}{-24}{417 (1)}
\gLab{1083}{-24}{419 (1)}
\gUp{143}{-20}{405 (1)}\gUp{831}{-36}{338 (2)}\gUp{939}{-36}{413 (1)}\gUp{953}{-36}{342 (2)}\gUp{967}{-36}{414 (1)}
\gUp{1005}{-36}{416 (1)}\gUp{1016}{-36}{120 (4)}\gUp{1059}{-36}{418 (1)}\gUp{1106}{-36}{347 (2)}
\gUp{1162}{-36}{420 (1)}\gUp{1170}{-36}{421 (1)}\gUp{1178}{-36}{422 (1)}\gUp{1189}{-36}{423 (1)}\gUp{1202}{-36}{352 (2)}
\gUp{1212}{-36}{424 (1)}\gUp{1223}{-36}{350 (2)}\gUp{1234}{-36}{354 (2)}\gUp{1243}{-36}{425 (1)}\gUp{1255}{-36}{426 (1)}
\gUp{1267}{-36}{427 (1)}\gUp{1277}{-36}{428 (1)}\gUp{1285}{-36}{429 (1)}\gUp{1294}{-36}{430 (1)}\gUp{1332}{-36}{362 (2)}
\gLab{780}{36}{412 (1)}\gDn{815}{47}{336 (2)}\gLab{1132}{50}{49 (7)}

\def\R{1657}
\Ruler{22}{1293}{82}
\gA{54}{116}{cRose}{127}\gA{120}{167}{cOliveD}{129}\gA{256}{284}{cRed}{131}\gA{373}{421}{cBlue2}{133}
\gA{483}{576}{cBlueD}{135}\gA{644}{689}{white}{137}\gA{746}{758}{cOR2}{141}\gA{877}{892}{cMag2}{145}\gA{904}{916}{white}{147}
\gA{932}{943}{cYG4}{149}\gA{967}{995}{white}{151}\gA{1073}{1087}{white}{155}\gA{1098}{1108}{white}{157}
\gA{1120}{1131}{white}{159}\gA{1140}{1150}{white}{161}\gA{1169}{1198}{white}{163}
\gB{23}{53}{cBlue3}{126}\gB{120}{146}{cOliveD}{128}\gB{167}{256}{cYGL}{130}\gB{284}{373}{cTealL}{132}\gB{421}{482}{cTealL}{134}
\gB{576}{644}{cViolet4}{136}\gB{692}{703}{white}{138}\gB{758}{784}{cBright2}{142}\gB{823}{877}{cPurD}{144}\gB{893}{905}{white}{146}
\gB{916}{932}{cSky}{148}\gB{944}{967}{white}{150}\gB{994}{1008}{cCyan}{152}\gB{1053}{1073}{cBright2}{154}
\gB{1087}{1098}{cHotPink2}{156}\gB{1109}{1120}{cYG4}{158}\gB{1131}{1141}{cAmber2}{160}\gB{1152}{1164}{white}{162}
\gB{1198}{1235}{white}{164}
\gC{708}{719}{cRed}{139}\gC{784}{808}{white}{143}\gC{1007}{1047}{cRS}{153}\gC{1238}{1247}{white}{165}\gC{1266}{1275}{white}{167}
\gD{719}{741}{white}{140}\gD{1247}{1266}{white}{166}
\gLab{86}{-36}{155 (3)}\gLab{144}{-36}{333 (2)}\gLab{270}{-36}{158 (3)}\gLab{396}{-36}{160 (3)}\gLab{530}{-36}{173 (3)}
\gLab{667}{-36}{334 (1)}\gLab{981}{-36}{346 (1)}\gLab{1184}{-36}{357 (1)}
\gLab{39}{-24}{153 (3)}\gLab{212}{-24}{157 (3)}\gLab{329}{-24}{159 (3)}\gLab{452}{-24}{161 (3)}\gLab{610}{-24}{174 (3)}
\gLab{772}{-24}{339 (2)}\gLab{850}{-24}{341 (2)}\gLab{956}{-24}{345 (1)}\gLab{1217}{-24}{358 (1)}
\gUp{698}{-20}{335 (1)}\gUp{752}{-36}{338 (2)}\gUp{885}{-36}{342 (2)}\gUp{898}{-36}{343 (1)}\gUp{910}{-36}{344 (1)}
\gUp{924}{-36}{85 (6)}\gUp{937}{-36}{120 (4)}\gUp{1001}{-20}{347 (2)}\gUp{1063}{-20}{348 (1)}\gUp{1080}{-36}{349 (1)}
\gUp{1092}{-36}{350 (2)}\gUp{1103}{-36}{351 (1)}\gUp{1114}{-36}{352 (2)}\gUp{1125}{-36}{353 (1)}\gUp{1135}{-36}{354 (2)}
\gUp{1145}{-36}{355 (1)}\gUp{1158}{-20}{356 (1)}
\gLab{796}{36}{340 (1)}\gLab{1027}{36}{49 (7)}
\gDn{712}{32}{336 (2)}\gDn{729}{47}{337 (1)}\gDn{1242}{32}{359 (1)}\gDn{1256}{47}{360 (1)}\gDn{1270}{32}{361 (1)}
\end{tikzpicture}
\end{document}
